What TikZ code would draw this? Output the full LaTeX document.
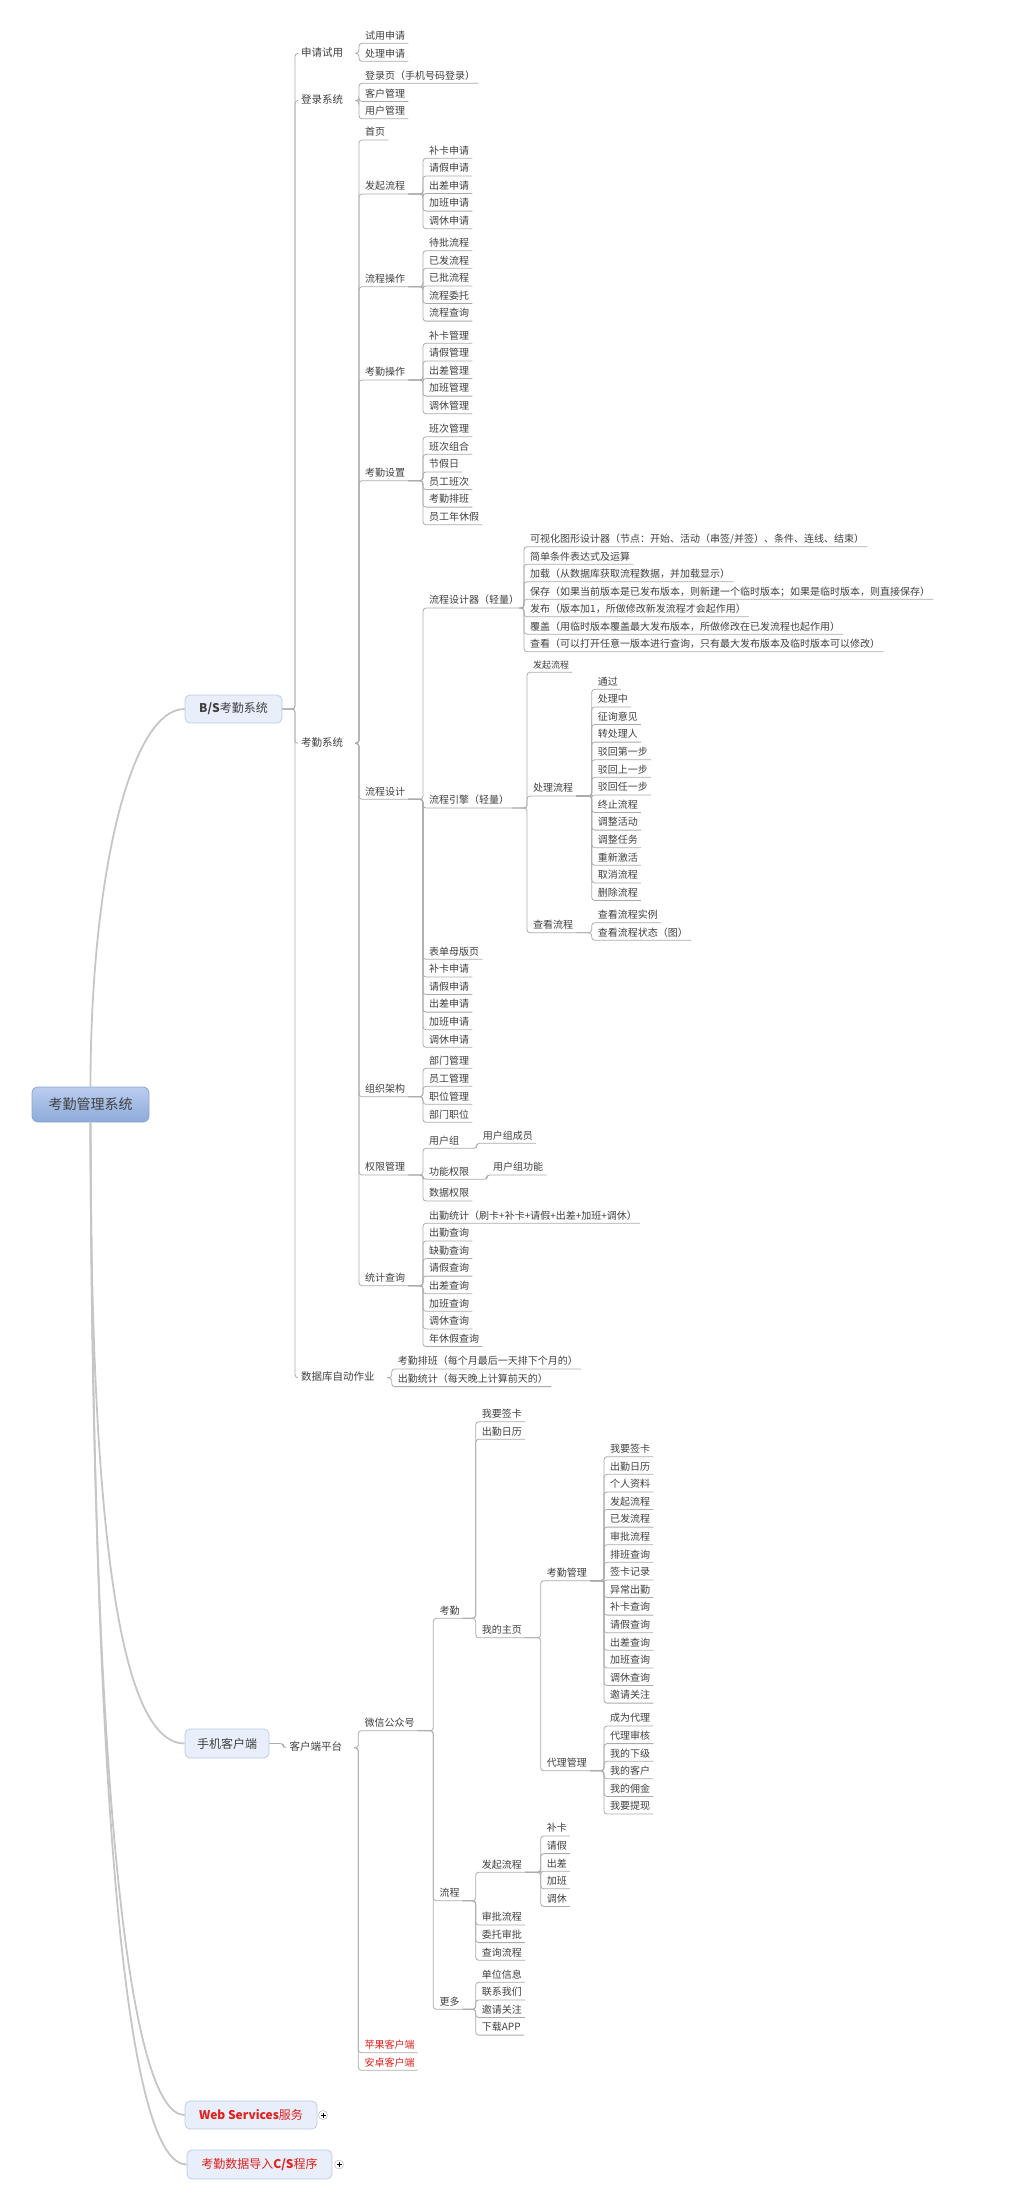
\documentclass[tikz,border=0pt]{standalone}
\usepackage{fontspec}
\setmainfont{Noto Sans CJK SC}
\usepackage{tikz}
\usetikzlibrary{calc}
\definecolor{cText}{HTML}{404040}
\definecolor{cRed}{HTML}{E3201B}
\definecolor{cLine}{HTML}{ABABAB}
\definecolor{cTrunk}{HTML}{C6C6C6}
\definecolor{cTopicFill}{HTML}{E8EFFB}
\definecolor{cTopicBorder}{HTML}{B9C9E2}
\definecolor{cRootTop}{HTML}{BACDEE}
\definecolor{cRootBot}{HTML}{8DAADA}
\definecolor{cRootBorder}{HTML}{8CA6D2}
\tikzset{
  rootBox/.style={draw=cRootBorder, top color=cRootTop, bottom color=cRootBot, line width=0.8pt,
                  rounded corners=6pt, minimum width=117pt, minimum height=35pt,
                  font=\fontsize{14}{14}\selectfont, text=cText},
  topicBox/.style={draw=cTopicBorder, fill=cTopicFill, line width=0.7pt, rounded corners=5pt,
                   minimum height=28pt, font=\fontsize{12}{12}\selectfont, text=cText},
  midTxt/.style={font=\fontsize{10.5}{10.5}\selectfont, text=cText, anchor=west,
                 inner xsep=3pt, inner ysep=2pt, text height=8pt, text depth=2pt},
  leafTxt/.style={font=\fontsize{10}{10}\selectfont, text=cText, anchor=south west,
                  inner xsep=3pt, inner ysep=2pt, text height=8pt, text depth=2pt},
  leafRed/.style={leafTxt, text=cRed},
  twig/.style={draw=cLine, line width=0.8pt, rounded corners=3pt},
  rootLine/.style={draw=cTrunk, line width=1.8pt},
  plusMark/.style={circle, draw=cLine, fill=white, minimum size=9pt, inner sep=0pt,
                   path picture={\draw[black, line width=0.8pt]
                     ([xshift=-2.5pt]path picture bounding box.center) -- ([xshift=2.5pt]path picture bounding box.center)
                     ([yshift=-2.5pt]path picture bounding box.center) -- ([yshift=2.5pt]path picture bounding box.center);}},
}

\begin{document}
\begin{tikzpicture}[x=1pt, y=-1pt]
\useasboundingbox (0,0) rectangle (1014,2209);

% ========== ROOT AND MAIN TOPICS ==========
\node[rootBox] (root) at (90.5,1104.5) {考勤管理系统};
\node[topicBox, minimum width=97pt] (bs) at (233.5,709) {\textbf{B/S}考勤系统};
\node[topicBox, minimum width=84pt, minimum height=29pt] (mc) at (227,1743.5) {手机客户端};
\node[topicBox, minimum width=132pt, text=cRed] (ws) at (251,2115) {\textbf{Web Services}服务};
\node[topicBox, minimum width=145pt, minimum height=29pt, text=cRed] (cs) at (259.5,2164.5)
  {考勤数据导入\textbf{C/S}程序};
\node[plusMark] (wsPlus) at (323,2115) {};
\node[plusMark] (csPlus) at (339,2164.5) {};

\draw[rootLine] (root.north) .. controls +(0,-207) and +(-55,0) .. (bs.west);
\draw[rootLine] (root.south) .. controls +(0,428) and +(-62,0) .. (mc.west);
\draw[rootLine] (root.south) .. controls +(1.5,678) and +(-55,0) .. (ws.west);
\draw[rootLine] (root.south) .. controls +(3.5,728) and +(-57,0) .. (cs.west);

% ========== B/S: SECOND LEVEL ==========
\node[midTxt] (sqsy) at (298,53.3) {申请试用};
\node[midTxt] (dlxt) at (298,100.5) {登录系统};
\node[midTxt] (kqxt) at (298,743.3) {考勤系统};
\node[midTxt] (sjzy) at (298,1377.7) {数据库自动作业};
\foreach \n in {sqsy,dlxt,kqxt,sjzy}
  \draw[twig] (bs.east) -| ([xshift=-3pt]\n.west) -- (\n.west);

\foreach \n/\y/\lbl in {sq0/43.3/试用申请, sq1/61.3/处理申请} {
  \node[leafTxt] (\n) at (362,\y) {\lbl};
  \draw[twig] ([xshift=9pt]sqsy.east) -| ([xshift=-3pt]\n.south west) -- (\n.south east);
}
\foreach \n/\y/\lbl in {dl0/83.3/登录页（手机号码登录）, dl1/101.4/客户管理, dl2/118.7/用户管理} {
  \node[leafTxt] (\n) at (362,\y) {\lbl};
  \draw[twig] ([xshift=9pt]dlxt.east) -| ([xshift=-3pt]\n.south west) -- (\n.south east);
}
\foreach \lbl [count=\i from 0] in {考勤排班（每个月最后一天排下个月的）, 出勤统计（每天晚上计算前天的）} {
  \node[leafTxt] (sj\i) at (394.7,1369+17.6*\i) {\lbl};
  \draw[twig] ([xshift=9pt]sjzy.east) -| ([xshift=-3pt]sj\i.south west) -- (sj\i.south east);
}

% ========== B/S: ATTENDANCE SYSTEM ==========
\foreach \n/\y/\lbl in {sy/140/首页, fq/194/发起流程, lc/286.7/流程操作, kc/380/考勤操作,
                        ks/480.7/考勤设置, ld/799.3/流程设计, zz/1096.7/组织架构,
                        qx/1175/权限管理, tj/1285.7/统计查询} {
  \node[leafTxt] (\n) at (362,\y) {\lbl};
  \draw[twig] ([xshift=9pt]kqxt.east) -| ([xshift=-3pt]\n.south west) -- (\n.south east);
}

\foreach \lbl [count=\i from 0] in {补卡申请,请假申请,出差申请,加班申请,调休申请} {
  \node[leafTxt] (fq\i) at (426,158.3+17.6*\i) {\lbl};
  \draw[twig] (fq.south east) -| ([xshift=-3pt]fq\i.south west) -- (fq\i.south east);
}
\foreach \lbl [count=\i from 0] in {待批流程,已发流程,已批流程,流程委托,流程查询} {
  \node[leafTxt] (lc\i) at (426,250.7+17.6*\i) {\lbl};
  \draw[twig] (lc.south east) -| ([xshift=-3pt]lc\i.south west) -- (lc\i.south east);
}
\foreach \lbl [count=\i from 0] in {补卡管理,请假管理,出差管理,加班管理,调休管理} {
  \node[leafTxt] (kc\i) at (426,343.3+17.6*\i) {\lbl};
  \draw[twig] (kc.south east) -| ([xshift=-3pt]kc\i.south west) -- (kc\i.south east);
}
\foreach \lbl [count=\i from 0] in {班次管理,班次组合,节假日,员工班次,考勤排班,员工年休假} {
  \node[leafTxt] (ks\i) at (426,436.7+17.6*\i) {\lbl};
  \draw[twig] (ks.south east) -| ([xshift=-3pt]ks\i.south west) -- (ks\i.south east);
}

% ---------- flow design ----------
\foreach \n/\y/\lbl in {lq/608/流程设计器（轻量）, ly/808/流程引擎（轻量）, ld2/959.3/表单母版页,
                        ld3/976.9/补卡申请, ld4/994.5/请假申请, ld5/1012.1/出差申请,
                        ld6/1029.7/加班申请, ld7/1047.3/调休申请} {
  \node[leafTxt] (\n) at (426,\y) {\lbl};
  \draw[twig] (ld.south east) -| ([xshift=-3pt]\n.south west) -- (\n.south east);
}
\foreach \lbl [count=\i from 0] in {可视化图形设计器（节点：开始、活动（串签/并签）、条件、连线、结束）,
    简单条件表达式及运算,
    加载（从数据库获取流程数据，并加载显示）,
    保存（如果当前版本是已发布版本，则新建一个临时版本；如果是临时版本，则直接保存）,
    发布（版本加1，所做修改新发流程才会起作用）,
    覆盖（用临时版本覆盖最大发布版本，所做修改在已发流程也起作用）,
    查看（可以打开任意一版本进行查询，只有最大发布版本及临时版本可以修改）} {
  \node[leafTxt] (lq\i) at (527,546.7+17.5*\i) {\lbl};
  \draw[twig] (lq.south east) -| ([xshift=-3pt]lq\i.south west) -- (lq\i.south east);
}

\node[leafTxt, font=\fontsize{9}{9}\selectfont] (ly0) at (530,672.3) {发起流程};
\node[leafTxt] (cl) at (530,796) {处理流程};
\node[leafTxt] (ck) at (530,932.7) {查看流程};
\foreach \n in {ly0,cl,ck}
  \draw[twig] (ly.south east) -| ([xshift=-3pt]\n.south west) -- (\n.south east);

\foreach \lbl [count=\i from 0] in {通过,处理中,征询意见,转处理人,驳回第一步,驳回上一步,驳回任一步,
                                   终止流程,调整活动,调整任务,重新激活,取消流程,删除流程} {
  \node[leafTxt] (cl\i) at (594.7,689.3+17.6*\i) {\lbl};
  \draw[twig] (cl.south east) -| ([xshift=-3pt]cl\i.south west) -- (cl\i.south east);
}
\foreach \lbl [count=\i from 0] in {查看流程实例,查看流程状态（图）} {
  \node[leafTxt] (ck\i) at (594.7,922.7+17.6*\i) {\lbl};
  \draw[twig] (ck.south east) -| ([xshift=-3pt]ck\i.south west) -- (ck\i.south east);
}

% ---------- organisation, rights, statistics ----------
\foreach \lbl [count=\i from 0] in {部门管理,员工管理,职位管理,部门职位} {
  \node[leafTxt] (zz\i) at (426,1068.3+18*\i) {\lbl};
  \draw[twig] (zz.south east) -| ([xshift=-3pt]zz\i.south west) -- (zz\i.south east);
}
\foreach \n/\y/\lbl in {qx0/1148.3/用户组, qx1/1179.3/功能权限, qx2/1201/数据权限} {
  \node[leafTxt] (\n) at (426,\y) {\lbl};
  \draw[twig] (qx.south east) -| ([xshift=-3pt]\n.south west) -- (\n.south east);
}
\node[leafTxt] (cy) at (479.7,1143.3) {用户组成员};
\draw[twig] (qx0.south east) -| ([xshift=-3pt]cy.south west) -- (cy.south east);
\node[leafTxt] (gn) at (490,1175) {用户组功能};
\draw[twig] (qx1.south east) -| ([xshift=-3pt]gn.south west) -- (gn.south east);

\foreach \lbl [count=\i from 0] in {出勤统计（刷卡+补卡+请假+出差+加班+调休）,出勤查询,缺勤查询,
                                   请假查询,出差查询,加班查询,调休查询,年休假查询} {
  \node[leafTxt] (tj\i) at (426,1223.3+17.6*\i) {\lbl};
  \draw[twig] (tj.south east) -| ([xshift=-3pt]tj\i.south west) -- (tj\i.south east);
}

% ========== MOBILE CLIENT ==========
\node[midTxt] (khpt) at (286.3,1747.7) {客户端平台};
\draw[twig] (mc.east) -| ([xshift=-3pt]khpt.west) -- (khpt.west);

\node[leafTxt] (wx) at (361.3,1730.7) {微信公众号};
\node[leafRed] (pg) at (361.3,2052.7) {苹果客户端};
\node[leafRed] (az) at (361.3,2070.3) {安卓客户端};
\foreach \n in {wx,pg,az}
  \draw[twig] ([xshift=9pt]khpt.east) -| ([xshift=-3pt]\n.south west) -- (\n.south east);

\foreach \n/\y/\lbl in {mkq/1618.3/考勤, mlc/1900.7/流程, mgd/2009.3/更多} {
  \node[leafTxt] (\n) at (436.3,\y) {\lbl};
  \draw[twig] (wx.south east) -| ([xshift=-3pt]\n.south west) -- (\n.south east);
}
\foreach \n/\y/\lbl in {mkq0/1421.7/我要签卡, mkq1/1439.3/出勤日历, mzy/1637.7/我的主页} {
  \node[leafTxt] (\n) at (478.7,\y) {\lbl};
  \draw[twig] (mkq.south east) -| ([xshift=-3pt]\n.south west) -- (\n.south east);
}
\foreach \n/\y/\lbl in {mkg/1580.7/考勤管理, mdl/1770.7/代理管理} {
  \node[leafTxt] (\n) at (543.7,\y) {\lbl};
  \draw[twig] (mzy.south east) -| ([xshift=-3pt]\n.south west) -- (\n.south east);
}
\foreach \lbl [count=\i from 0] in {我要签卡,出勤日历,个人资料,发起流程,已发流程,审批流程,排班查询,签卡记录,
                                   异常出勤,补卡查询,请假查询,出差查询,加班查询,调休查询,邀请关注} {
  \node[leafTxt] (mkg\i) at (607,1456.7+17.6*\i) {\lbl};
  \draw[twig] (mkg.south east) -| ([xshift=-3pt]mkg\i.south west) -- (mkg\i.south east);
}
\foreach \lbl [count=\i from 0] in {成为代理,代理审核,我的下级,我的客户,我的佣金,我要提现} {
  \node[leafTxt] (mdl\i) at (607,1726+17.6*\i) {\lbl};
  \draw[twig] (mdl.south east) -| ([xshift=-3pt]mdl\i.south west) -- (mdl\i.south east);
}

\foreach \n/\y/\lbl in {mfq/1872.3/发起流程, mlc1/1925/审批流程, mlc2/1942.6/委托审批, mlc3/1960.2/查询流程} {
  \node[leafTxt] (\n) at (478.7,\y) {\lbl};
  \draw[twig] (mlc.south east) -| ([xshift=-3pt]\n.south west) -- (\n.south east);
}
\foreach \lbl [count=\i from 0] in {补卡,请假,出差,加班,调休} {
  \node[leafTxt] (mfq\i) at (543.7,1836+17.6*\i) {\lbl};
  \draw[twig] (mfq.south east) -| ([xshift=-3pt]mfq\i.south west) -- (mfq\i.south east);
}
\foreach \lbl [count=\i from 0] in {单位信息,联系我们,邀请关注,下载APP} {
  \node[leafTxt] (mgd\i) at (478.7,1982.3+17.6*\i) {\lbl};
  \draw[twig] (mgd.south east) -| ([xshift=-3pt]mgd\i.south west) -- (mgd\i.south east);
}

\end{tikzpicture}
\end{document}
